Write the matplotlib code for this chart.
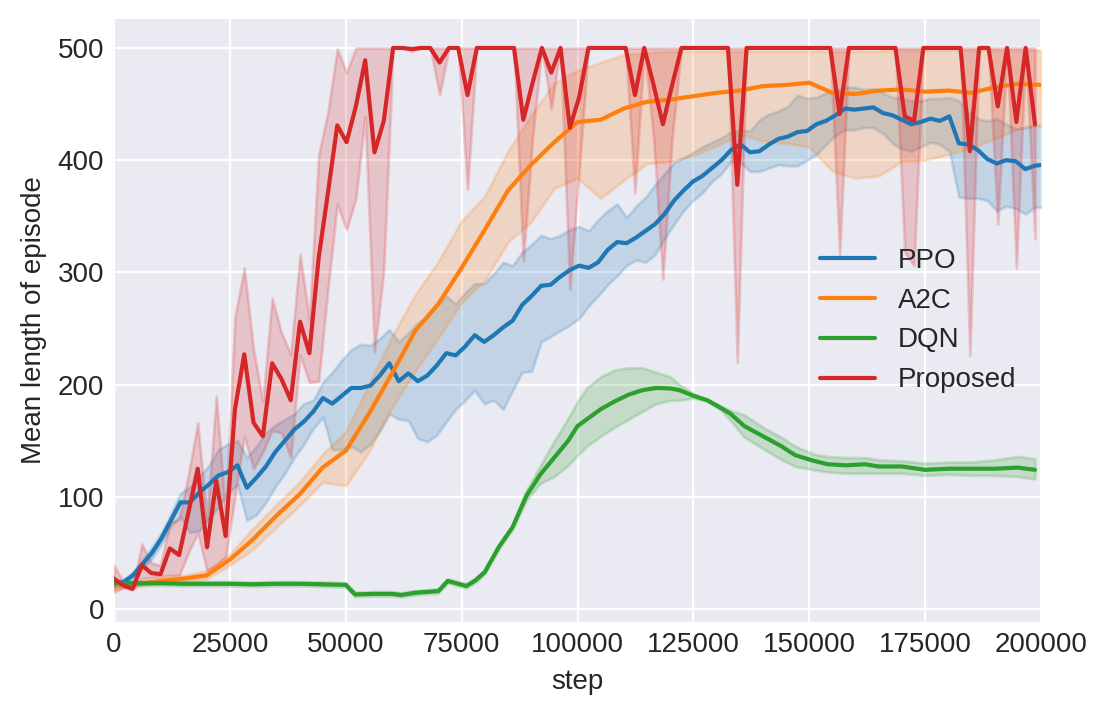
"""
Mean episode length vs. training step for PPO, A2C, DQN and the proposed
method, each drawn as a line with a shaded band around it.
"""
import numpy as np
import matplotlib
matplotlib.use("Agg")
import matplotlib.pyplot as plt

plt.style.use("seaborn-v0_8-darkgrid")
plt.rcParams["font.family"] = ["Liberation Sans", "DejaVu Sans"]

# ── data ──────────────────────────────────────────────────────────────────────

# PPO: one point every 2048 steps
ppo_mean = [22, 24, 30, 40, 50, 63, 79, 95, 95, 104,
            111, 119, 122, 128, 108, 117, 127, 140, 150, 160,
            167, 176, 188, 183, 190, 197, 197, 199, 208, 219,
            203, 210, 203, 208, 217, 228, 226, 234, 244, 238,
            244, 251, 257, 271, 279, 288, 289, 296, 302, 306,
            304, 309, 320, 327, 326, 331, 337, 343, 352, 364,
            373, 381, 386, 393, 400, 409, 414, 407, 408, 414,
            419, 421, 425, 426, 432, 435, 440, 446, 445, 446,
            447, 442, 440, 436, 432, 434, 437, 435, 439, 415,
            414, 409, 401, 397, 400, 399, 392, 395, 396]
ppo_hi = [25, 26, 33, 44, 55, 68, 85, 103, 109, 118,
          128, 142, 147, 150, 135, 145, 157, 164, 169, 174,
          183, 186, 202, 211, 222, 231, 236, 235, 241, 249,
          238, 246, 255, 260, 270, 279, 272, 282, 290, 290,
          299, 309, 306, 318, 325, 333, 330, 333, 338, 341,
          337, 347, 355, 361, 349, 359, 367, 378, 388, 398,
          402, 407, 412, 416, 420, 425, 427, 426, 436, 441,
          444, 448, 458, 455, 456, 460, 462, 465, 465, 463,
          464, 460, 456, 455, 453, 453, 455, 455, 456, 453,
          443, 437, 435, 437, 432, 428, 429, 431, 431]
ppo_lo = [20, 21, 27, 36, 45, 58, 74, 82, 68, 70,
          80, 91, 103, 111, 79, 84, 95, 109, 121, 135,
          147, 161, 171, 142, 142, 145, 140, 147, 159, 174,
          169, 168, 152, 149, 155, 167, 178, 186, 195, 183,
          186, 178, 195, 211, 212, 238, 243, 248, 253, 259,
          270, 279, 289, 297, 306, 311, 309, 316, 330, 343,
          355, 364, 371, 381, 388, 399, 398, 390, 390, 393,
          396, 395, 395, 400, 405, 414, 422, 427, 427, 429,
          429, 424, 415, 410, 408, 412, 416, 414, 408, 367,
          366, 366, 364, 355, 359, 357, 352, 358, 358]

# A2C: every 5000 steps
a2c_steps = [0, 5000, 10000, 15000, 20000, 25000, 30000, 35000, 40000, 45000,
             50000, 55000, 60000, 65000, 70000, 75000, 80000, 85000, 90000,
             95000, 100000, 105000, 110000, 115000, 120000, 125000, 130000,
             135000, 140000, 145000, 150000, 155000, 160000, 165000, 170000,
             175000, 180000, 185000, 190000, 195000, 200000]
a2c_mean = [22, 22, 25, 27, 30, 44, 62, 83, 102, 126,
            141, 174, 210, 248, 272, 304, 338, 373, 396,
            416, 434, 436, 446, 452, 454, 457, 460,
            462, 466, 467, 469, 460, 459, 462, 463,
            461, 462, 460, 465, 468, 467]
a2c_hi = [25, 24, 28, 30, 34, 49, 72, 93, 113, 138,
          158, 200, 243, 280, 310, 346, 368, 408, 440,
          469, 480, 487, 494, 496, 497, 497, 497,
          497, 497, 497, 497, 497, 497, 497, 498,
          498, 498, 498, 498, 498, 498]
a2c_lo = [18, 20, 23, 24, 27, 39, 53, 73, 92, 113,
          110, 140, 180, 212, 242, 273, 293, 327, 345,
          375, 384, 366, 382, 397, 399, 404, 413,
          423, 417, 415, 412, 390, 384, 386, 399,
          400, 405, 411, 419, 428, 432]

# DQN: irregular sampling
dqn_steps = [0, 5000, 10000, 15000, 20000, 25000, 30000, 35000, 40000, 45000,
             50000, 52000, 56000, 60000, 62000, 65000, 70000, 72000, 76000,
             78000, 80000, 83000, 86000, 89000, 92000, 95000, 98000, 100000,
             102000, 105000, 108000, 111000, 114000, 117000, 120000, 122000,
             125000, 128000, 131000, 133000, 136000, 140000, 144000, 147000,
             151000, 154000, 158000, 162000, 165000, 170000, 175000, 180000,
             185000, 190000, 195000, 198700]
dqn_mean = [23, 23, 23, 22.5, 22.5, 22.5, 22, 22.5, 22.5, 22,
            21.5, 13, 13.5, 13.5, 12.5, 14.5, 16, 25, 20.5,
            25.5, 33, 55, 73, 101, 120, 135, 150, 163,
            169, 178, 185, 191, 195, 197, 196.5, 195,
            190, 186, 179, 174, 163, 154, 145, 137,
            132, 129, 128, 129, 127, 127, 124, 125,
            125, 125, 126, 124]
dqn_hi = [25, 25, 25, 24.5, 24.5, 24.5, 24, 24.5, 24.5, 24,
          23.5, 15, 15.5, 15.5, 14.5, 16.5, 18, 27, 22.5,
          27.5, 35, 57, 75, 106, 128, 150, 170, 185,
          197, 207, 213, 215, 215, 211, 207, 200,
          192, 187, 181, 177, 173, 162, 153, 145,
          138, 136, 135, 135, 133, 132, 130, 131,
          131, 133, 136, 134]
dqn_lo = [21, 21, 21, 20.5, 20.5, 20.5, 20, 20.5, 20.5, 20,
          19.5, 11, 11.5, 11.5, 10.5, 12.5, 14, 23, 18.5,
          23.5, 31, 53, 71, 97, 112, 118, 128, 137,
          145, 154, 162, 169, 176, 183, 186, 186,
          188, 185, 177, 168, 153, 143, 133, 127,
          124, 122, 121, 121, 121, 121, 119, 120,
          119, 119, 118, 116]

# Proposed: 100 points, roughly every 2000 steps
prop_mean = [27, 21, 18, 39, 32, 31, 54, 48, 86, 125,
             55, 114, 65, 178, 227, 166, 154, 219, 205, 186,
             256, 228, 313, 371, 431, 416, 448, 489, 407, 435,
             500, 500, 499, 500, 500, 487, 500, 500, 458, 500,
             500, 500, 500, 500, 436, 469, 500, 478, 500, 429,
             456, 500, 500, 500, 500, 500, 458, 500, 467, 432,
             467, 500, 500, 500, 500, 500, 500, 378, 500, 500,
             500, 500, 500, 500, 500, 500, 500, 500, 441, 500,
             500, 500, 500, 500, 500, 439, 435, 500, 500, 500,
             500, 500, 408, 500, 500, 448, 500, 434, 500, 432]
prop_hi = [39, 24, 19, 58, 41, 39, 77, 80, 120, 166,
           80, 190, 84, 260, 304, 231, 185, 277, 246, 227,
           316, 258, 405, 443, 499, 478, 500, 500, 500, 500,
           500, 500, 500, 500, 500, 500, 500, 500, 500, 500,
           500, 500, 500, 500, 500, 500, 500, 500, 500, 500,
           500, 500, 500, 500, 500, 500, 500, 500, 500, 500,
           500, 500, 500, 500, 500, 500, 500, 500, 500, 500,
           500, 500, 500, 500, 500, 500, 500, 500, 500, 500,
           500, 500, 500, 500, 500, 500, 500, 500, 500, 500,
           500, 500, 500, 500, 500, 500, 500, 500, 500, 500]
prop_lo = [15, 19, 17, 27, 28, 29, 30, 30, 50, 68,
           34, 39, 46, 100, 154, 125, 140, 159, 157, 135,
           226, 202, 203, 285, 361, 338, 366, 439, 229, 302,
           500, 500, 497, 500, 500, 458, 500, 500, 374, 500,
           500, 500, 500, 500, 310, 420, 500, 446, 500, 285,
           390, 500, 500, 500, 500, 500, 371, 500, 420, 294,
           420, 500, 500, 500, 500, 500, 500, 220, 500, 500,
           500, 500, 500, 500, 500, 500, 500, 500, 316, 500,
           500, 500, 500, 500, 500, 318, 306, 500, 500, 500,
           500, 500, 226, 500, 500, 343, 500, 304, 500, 330]

ppo_steps = np.arange(len(ppo_mean)) * 2048
prop_steps = np.linspace(0, 198700, len(prop_mean))


# ── helpers ───────────────────────────────────────────────────────────────────

def band_line(ax, x, mean, lo, hi, color, label):
    ax.fill_between(x, lo, hi, color=color, alpha=0.2)
    ax.plot(x, mean, color=color, lw=1.5, label=label)


# ── figure ────────────────────────────────────────────────────────────────────

fig = plt.figure(figsize=(1109 / 200, 716 / 200), dpi=200)
ax = fig.add_axes([114 / 1109, 94 / 716, 927 / 1109, 603 / 716])

band_line(ax, ppo_steps, ppo_mean, ppo_lo, ppo_hi, "C0", "PPO")
band_line(ax, a2c_steps, a2c_mean, a2c_lo, a2c_hi, "C1", "A2C")
band_line(ax, dqn_steps, dqn_mean, dqn_lo, dqn_hi, "C2", "DQN")
band_line(ax, prop_steps, prop_mean, prop_lo, prop_hi, "C3", "Proposed")

ax.set_xlim(0, 200000)
ax.set_ylim(-11.6, 525.8)
ax.set_xlabel("step", fontsize=10)
ax.set_ylabel("Mean length of episode", fontsize=10)
ax.tick_params(labelsize=10)
ax.legend(loc="center right", fontsize=10, frameon=False)

fig.savefig("out.png", dpi=200)
